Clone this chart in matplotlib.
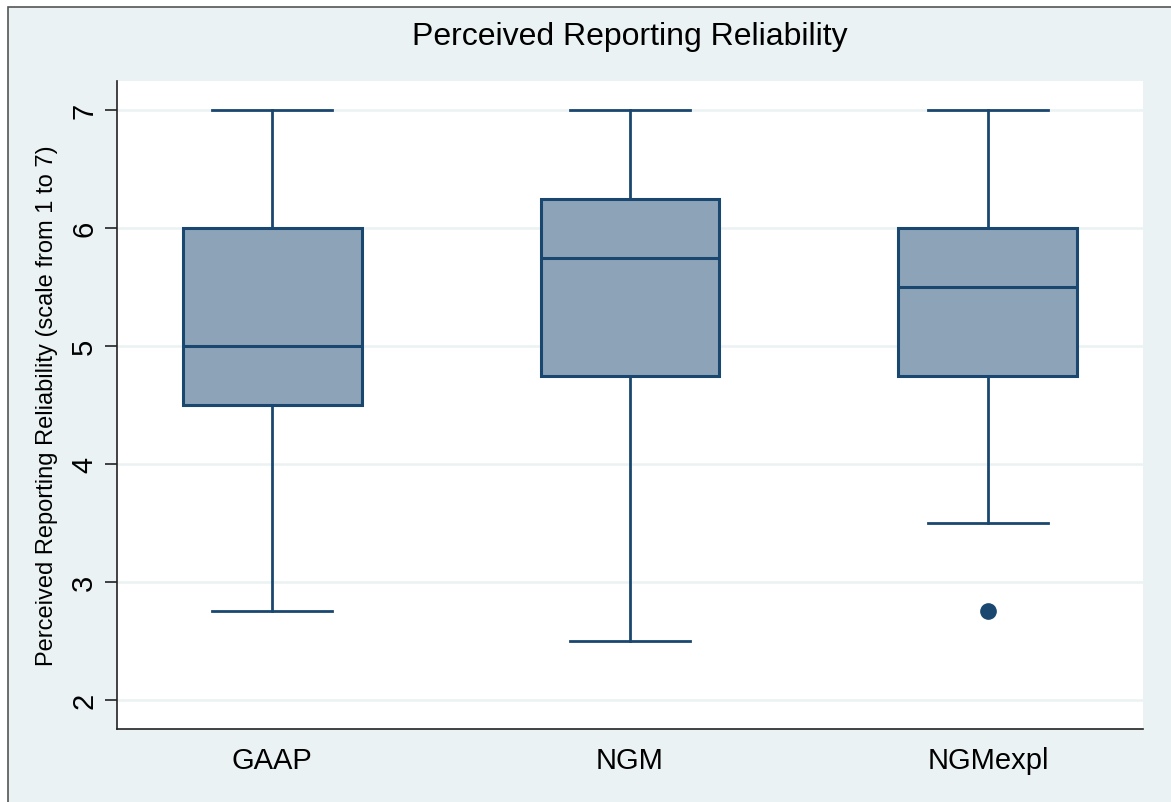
import matplotlib
matplotlib.use("Agg")
import matplotlib.pyplot as plt
from matplotlib.patches import Rectangle

plt.rcParams['font.family'] = ['Liberation Sans', 'DejaVu Sans']

categories = ["GAAP", "NGM", "NGMexpl"]
whislo = [2.75, 2.5, 3.5]
q1 = [4.5, 4.75, 4.75]
med = [5.0, 5.75, 5.5]
q3 = [6.0, 6.25, 6.0]
whishi = [7.0, 7.0, 7.0]
fliers = [[], [], [2.75]]
yticks = [2, 3, 4, 5, 6, 7]

bg = "#EAF2F3"
edge = "#1A476F"
fill = "#8DA3B8"

W, H = 1171, 803
fig = plt.figure(figsize=(W / 100, H / 100), dpi=100)
fig.patch.set_facecolor("white")
rect = Rectangle((8 / W, -0.1), 1.2, 1 - 8 / H + 0.1, transform=fig.transFigure,
                 facecolor=bg, edgecolor="#555555", linewidth=1.2, zorder=-10)
fig.add_artist(rect)

ax = fig.add_axes([117 / W, 1 - 730 / H, (1143 - 117) / W, (730 - 82) / H])
ax.set_facecolor("white")

stats = []
for i, c in enumerate(categories):
    stats.append(dict(label=c, whislo=whislo[i], q1=q1[i], med=med[i], q3=q3[i],
                      whishi=whishi[i], fliers=fliers[i]))

ax.bxp(stats, positions=[1, 2, 3], widths=0.5, patch_artist=True, showfliers=True,
       boxprops=dict(facecolor=fill, edgecolor=edge, linewidth=2.2),
       medianprops=dict(color=edge, linewidth=2.2),
       whiskerprops=dict(color=edge, linewidth=2.0),
       capprops=dict(color=edge, linewidth=2.0),
       capwidths=0.335,
       flierprops=dict(marker='o', markerfacecolor=edge, markeredgecolor=edge, markersize=11))

ax.set_xlim(0.567, 3.433)
ax.set_ylim(1.754, 7.246)
ax.set_yticks(yticks)
ax.set_yticklabels([str(t) for t in yticks], rotation=90, va='center', fontsize=21)
ax.tick_params(axis='y', length=8.5, width=1.2, color="#222222", pad=5)
ax.tick_params(axis='x', length=0, labelsize=21, pad=12)
ax.yaxis.grid(True, color=bg, linewidth=1.8)
ax.set_axisbelow(True)
for s in ["top", "right"]:
    ax.spines[s].set_visible(False)
for s in ["left", "bottom"]:
    ax.spines[s].set_color("#222222")
    ax.spines[s].set_linewidth(1.2)

ax.set_ylabel("Perceived Reporting Reliability (scale from 1 to 7)", fontsize=17, labelpad=9)
fig.text((117 + 1143) / 2 / W, 1 - 37 / H, "Perceived Reporting Reliability", ha='center', va='center',
         fontsize=23)

fig.savefig("out.png", dpi=100)
